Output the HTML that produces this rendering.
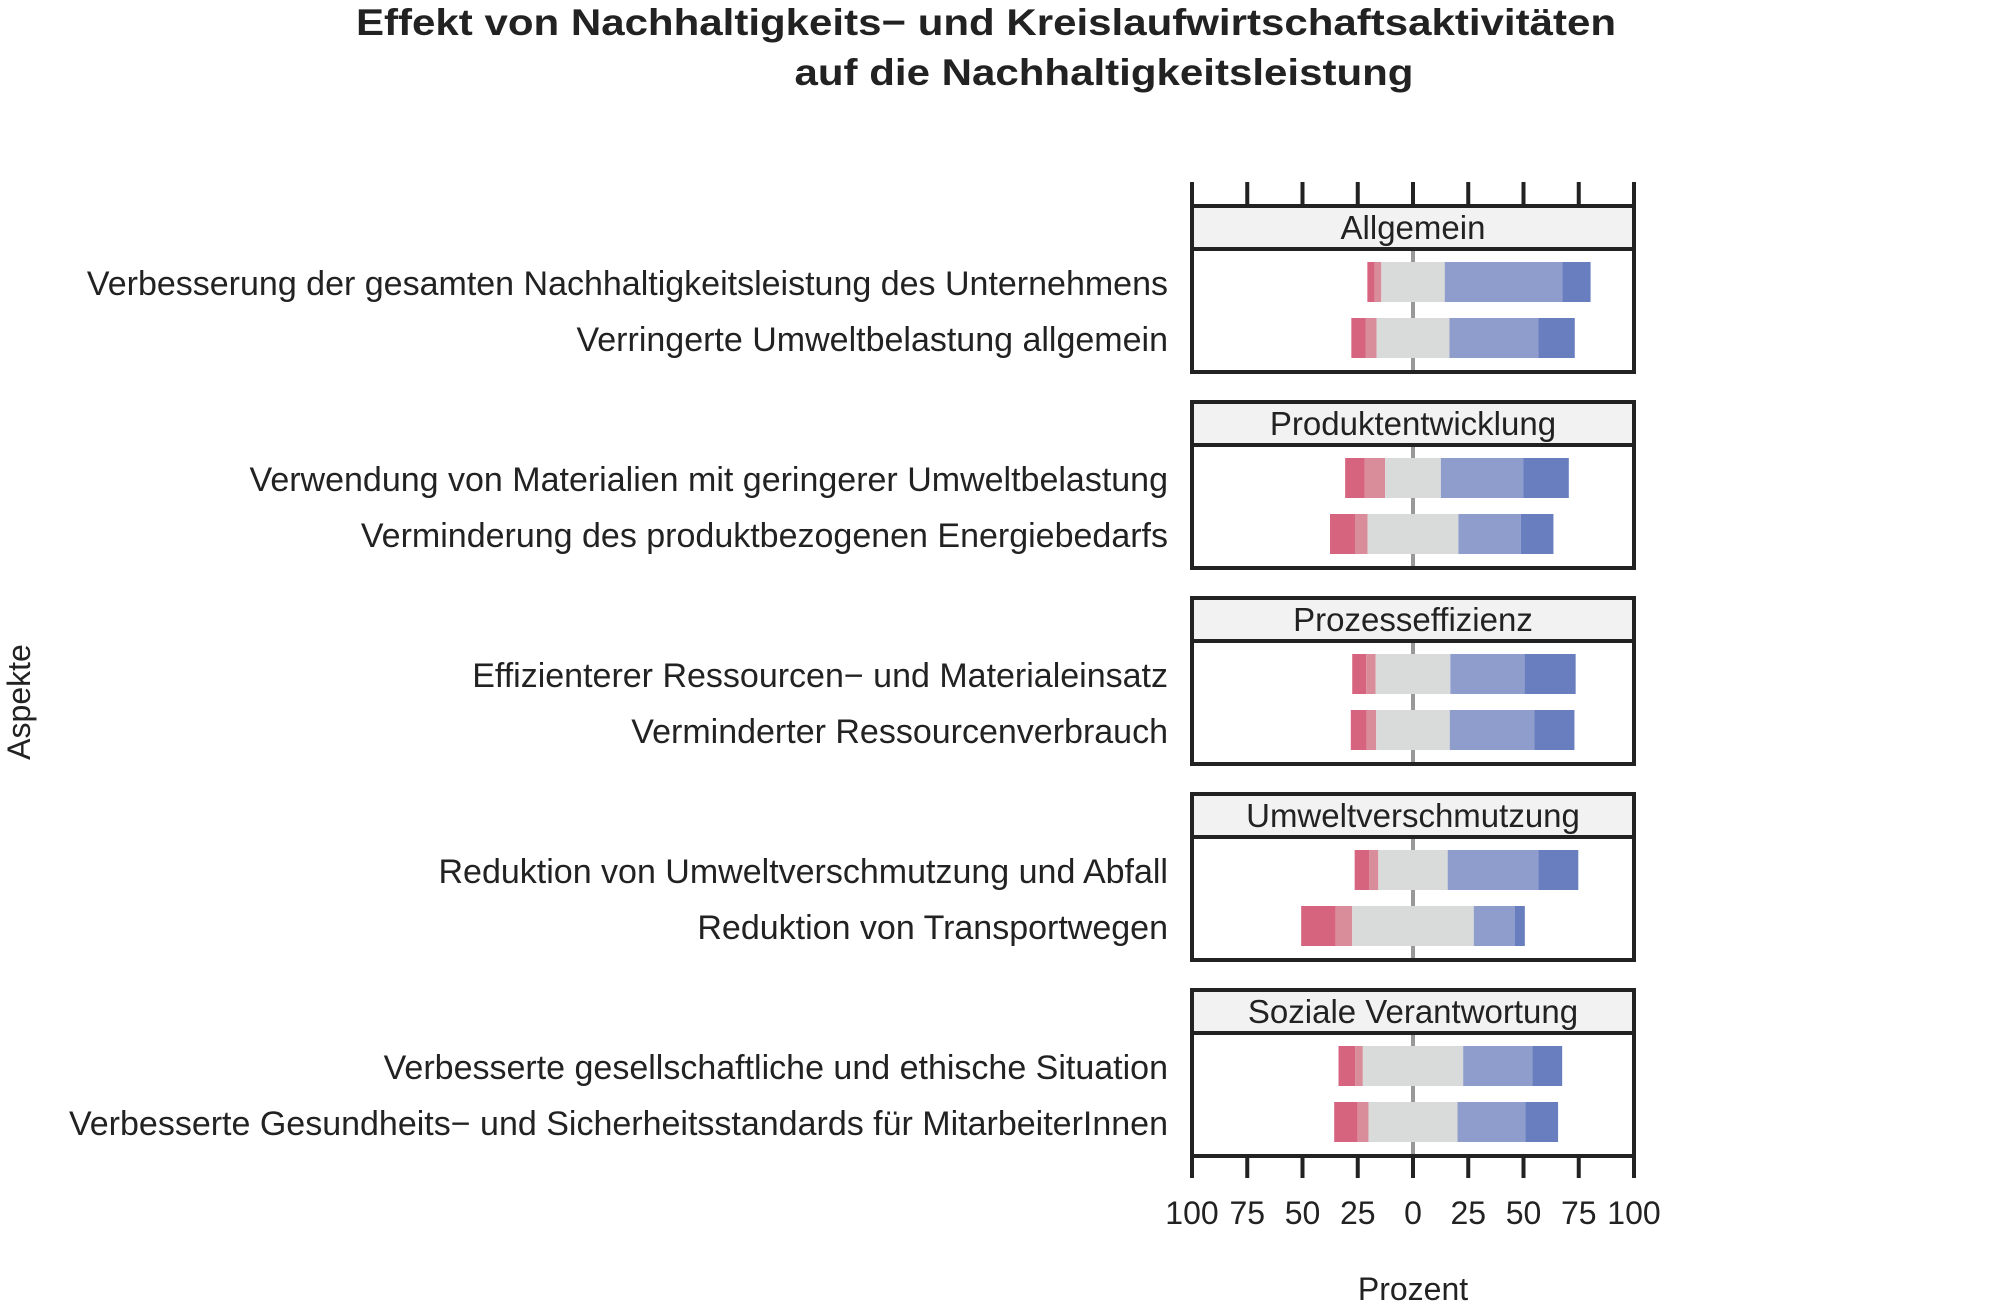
<!DOCTYPE html>
<html><head><meta charset="utf-8"><style>
html,body{margin:0;padding:0;background:#fff;}
svg{display:block;font-family:"Liberation Sans",sans-serif;}
</style></head><body>
<svg id="chart" width="2008" height="1312" viewBox="0 0 2008 1312">
<text x="986" y="35" font-size="37" font-weight="bold" text-anchor="middle" fill="#222" textLength="1260" lengthAdjust="spacingAndGlyphs">Effekt von Nachhaltigkeits− und Kreislaufwirtschaftsaktivitäten</text>
<text x="1104" y="85" font-size="37" font-weight="bold" text-anchor="middle" fill="#222" textLength="619" lengthAdjust="spacingAndGlyphs">auf die Nachhaltigkeitsleistung</text>
<text x="0" y="0" font-size="32" text-anchor="middle" fill="#222" transform="translate(30,702) rotate(-90)">Aspekte</text>
<text x="1413" y="1300" font-size="32" text-anchor="middle" fill="#222">Prozent</text>
<g id="panels"></g>
</svg>
<script>
const groups = ["Allgemein","Produktentwicklung","Prozesseffizienz","Umweltverschmutzung","Soziale Verantwortung"];
const items = [
 ["Verbesserung der gesamten Nachhaltigkeitsleistung des Unternehmens","Verringerte Umweltbelastung allgemein"],
 ["Verwendung von Materialien mit geringerer Umweltbelastung","Verminderung des produktbezogenen Energiebedarfs"],
 ["Effizienterer Ressourcen− und Materialeinsatz","Verminderter Ressourcenverbrauch"],
 ["Reduktion von Umweltverschmutzung und Abfall","Reduktion von Transportwegen"],
 ["Verbesserte gesellschaftliche und ethische Situation","Verbesserte Gesundheits− und Sicherheitsstandards für MitarbeiterInnen"]
];
const strongNeg = [3.3,6.4, 8.9,11.3, 6.3,7.2, 6.5,15.6, 7.6,10.5];
const neg       = [3.0,5.0, 9.2,5.7, 4.3,4.3, 4.2,7.5, 3.4,5.0];
const neutral   = [28.7,33.0, 25.2,41.1, 33.8,33.3, 31.4,55.0, 45.4,40.3];
const pos       = [53.2,40.3, 37.4,28.2, 33.6,38.3, 41.0,18.5, 31.3,30.7];
const strongPos = [12.8,16.4, 20.5,14.8, 23.1,18.1, 18.1,4.6, 13.5,14.8];
const tickValues = [-100,-75,-50,-25,0,25,50,75,100];
const tickLabels = ["100","75","50","25","0","25","50","75","100"];

const NS="http://www.w3.org/2000/svg";
const X0=1192, X1=1634, XC=1413;
const xs = p => XC + p*(X1-X0)/200;
const root=document.getElementById('panels');
function mk(tag,attrs,parent){const e=document.createElementNS(NS,tag);for(const k in attrs)e.setAttribute(k,attrs[k]);(parent||root).appendChild(e);return e;}
const colors=["#D6647F","#D98D9A","#D9DBDA","#8F9DCD","#687EBE"];
const segNames=["strongly-negative","negative","neutral","positive","strongly-positive"];
const pitch=196, top0=206, stripH=43, panelH=166;
groups.forEach((g,gi)=>{
  const top=top0+gi*pitch, bot=top+panelH;
  const pg=mk('g',{});
  
  
  const strip=mk('rect',{x:X0,y:top,width:X1-X0,height:stripH,fill:'#F2F2F2',stroke:'none'},pg);
  
  
  const st=mk('text',{x:XC,y:top+33,'font-size':33,'text-anchor':'middle',fill:'#222'},pg);
  st.textContent=g;
  
  
  const zl=mk('line',{x1:xs(0),x2:xs(0),y1:top+stripH,y2:bot,stroke:'#999','stroke-width':4},pg);
  
  
  items[gi].forEach((lab,ri)=>{
    const idx=gi*2+ri;
    const y=top+56+ri*56;
    const vals=[strongNeg[idx],neg[idx],neutral[idx],pos[idx],strongPos[idx]];
    let start=-(vals[0]+vals[1]+vals[2]/2);
    vals.forEach((v,si)=>{
      const r=mk('rect',{x:xs(start),y:y,width:Math.max(0,xs(start+v)-xs(start)),height:40,fill:colors[si]},pg);
      
      
      start+=v;
    });
    const t=mk('text',{x:1168,y:y+33,'font-size':34,'text-anchor':'end',fill:'#222'},pg);
    t.textContent=lab;
    
    
  });
  mk('line',{x1:X0,x2:X1,y1:top+stripH,y2:top+stripH,stroke:'#222','stroke-width':4},pg);
  const fr=mk('rect',{x:X0,y:top,width:X1-X0,height:panelH,fill:'none',stroke:'#222','stroke-width':4},pg);
  
  
});
tickValues.forEach(v=>{
  const t=mk('line',{x1:xs(v),x2:xs(v),y1:182,y2:206,stroke:'#222','stroke-width':4});
  
  
});
const lastBot=top0+4*pitch+panelH;
tickValues.forEach((v,i)=>{
  const t=mk('line',{x1:xs(v),x2:xs(v),y1:lastBot,y2:lastBot+22,stroke:'#222','stroke-width':4});
  
  
  const l=mk('text',{x:xs(v),y:1224,'font-size':32,'text-anchor':'middle',fill:'#222'});
  l.textContent=tickLabels[i];
  
  
});
</script>
</body></html>
